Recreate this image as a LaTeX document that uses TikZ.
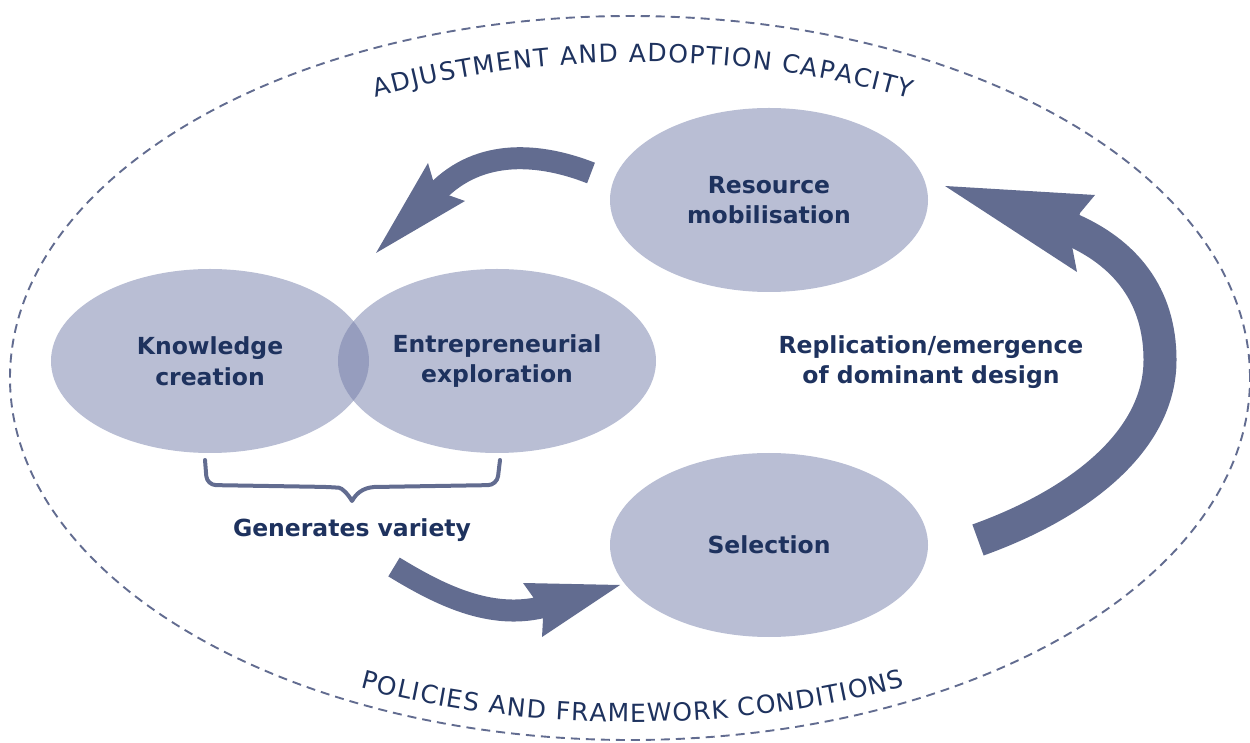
\documentclass[tikz,border=0pt]{standalone}
\usepackage{fontspec}
\setmainfont{DejaVu Sans}
\usetikzlibrary{shapes.geometric,decorations.text}
\definecolor{arrowcol}{RGB}{98,108,144}
\definecolor{textcol}{RGB}{30,50,94}
\definecolor{ellcol}{RGB}{115,125,169}
\newcommand\nodefont{\fontsize{23.5}{30.5}\selectfont\bfseries}
\newcommand\arcfont{\fontsize{25}{30}\selectfont}
\begin{document}
\begin{tikzpicture}[x=1pt,y=1pt,
  blob/.style={ellipse, fill=ellcol, fill opacity=0.5, text opacity=1, text=textcol,
    font=\nodefont, align=center, minimum width=318pt, minimum height=184pt, inner sep=0pt},
  lbl/.style={text=textcol, font=\nodefont, align=center, inner sep=0pt},
  body/.style={draw=arrowcol, line cap=butt},
  head/.style={fill=arrowcol},
  outline/.style={ellipse, draw=arrowcol, line width=1.9pt, dash pattern=on 9pt off 6pt,
    minimum width=1240pt, minimum height=724pt, inner sep=0pt},
  bracket/.style={draw=arrowcol, line width=4pt, line cap=round, line join=round},
  arctext/.style={decorate, decoration={text along path, text align={fit to path}, text color=textcol}}
]
\useasboundingbox (0,0) rectangle (1250,742);

% outer frame
\node[outline] (frame) at (630,364) {};

% curved labels
\path[arctext, decoration={text={|\arcfont|ADJUSTMENT AND ADOPTION CAPACITY}}]
  (640,364) ++(117.4:575 and 316) arc[start angle=117.4, end angle=62, x radius=575, y radius=316];
\path[arctext, decoration={text={|\arcfont|POLICIES AND FRAMEWORK CONDITIONS}}]
  (630,364) ++(244.3:622 and 344) arc[start angle=244.3, end angle=296.2, x radius=622, y radius=344];

% ellipses
\node[blob] (rm) at (769,542) {Resource\\mobilisation};
\node[blob] (kc) at (210,381) {Knowledge\\creation};
\node[blob] (ee) at (497,381) {Entrepreneurial\\exploration};
\node[blob] (sel) at (769,197) {Selection};

% labels
\node[lbl] (repl) at (931,380) {Replication/emergence\\of dominant design};
\node[lbl] (gen) at (352,212) {Generates variety};

% bracket
\draw[bracket] (205,282) [rounded corners=9pt] -- (207,257) -- (330,255) [sharp corners]
  .. controls (342,254) and (348,248) .. (352,241)
  .. controls (356,248) and (362,254) .. (374,255) [rounded corners=9pt]
  -- (497,257) -- (500,282);

% arrow 1: resource mobilisation -> knowledge / entrepreneurial
\coordinate (a1s) at (591,569);
\coordinate (a1e) at (437,550);
\coordinate (a1t) at (376,489);
\draw[body, line width=22pt] (a1s) .. controls (540,589) and (480,594) .. (a1e);
\fill[head] (a1t) -- (428,579) -- (433,562) -- (448,547) -- (465,541) -- cycle;

% arrow 3: generates variety -> selection
\coordinate (a3s) at (394,175);
\coordinate (a3e) at (543,135);
\coordinate (a3t) at (620,157);
\draw[body, line width=22pt] (a3s) .. controls (440,147) and (490,122) .. (a3e);
\fill[head] (a3t) -- (523,159) -- (533,145) -- (543,123) -- (542,105) -- cycle;

% arrow 2: selection -> resource mobilisation
\coordinate (a2s) at (978,202);
\coordinate (a2m) at (1160,382);
\coordinate (a2e) at (1068,514);
\coordinate (a2t) at (945,556);
\draw[body, line width=33pt] (a2s) .. controls (1081,239) and (1160,302) .. (a2m)
  .. controls (1160,447) and (1125,490) .. (a2e);
\fill[head] (a2t) -- (1095,547) -- (1080,529) -- (1072,496) -- (1077,470) -- cycle;
\end{tikzpicture}
\end{document}
